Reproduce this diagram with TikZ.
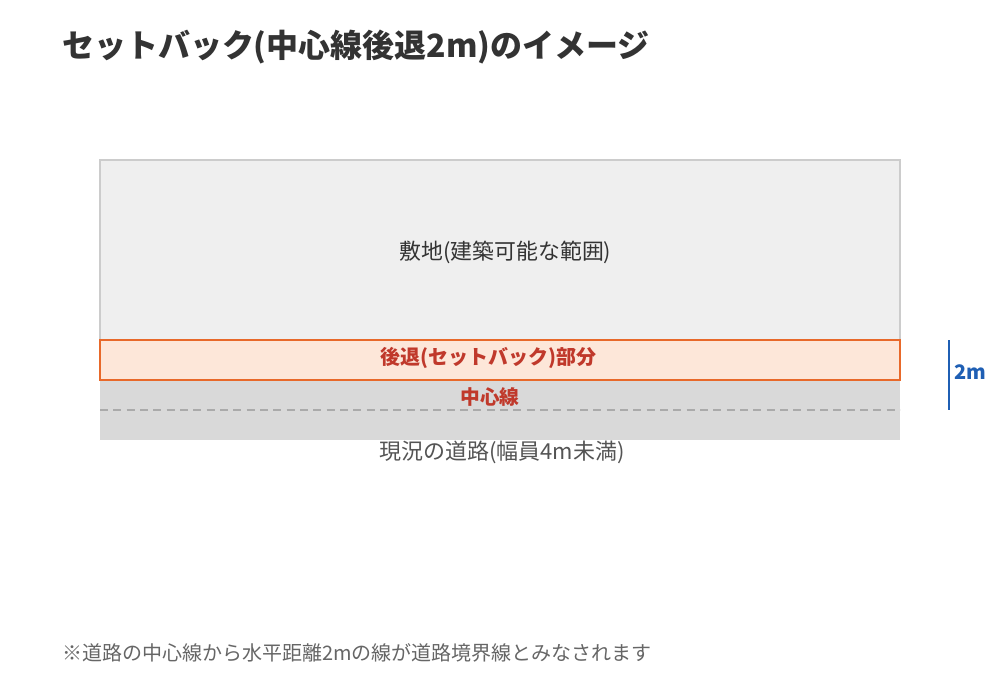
\documentclass[tikz,border=0pt]{standalone}
\usepackage{fontspec}
\setmainfont{Noto Sans CJK JP}
\usetikzlibrary{calc}
\definecolor{titlec}{HTML}{333333}
\definecolor{landfill}{HTML}{EFEFEF}
\definecolor{landdraw}{HTML}{CCCCCC}
\definecolor{setfill}{HTML}{FDE7D9}
\definecolor{setdraw}{HTML}{E8692A}
\definecolor{roadfill}{HTML}{D9D9D9}
\definecolor{redtext}{HTML}{C0392B}
\definecolor{bluec}{HTML}{1F5FB4}
\definecolor{dashc}{HTML}{AAAAAA}
\begin{document}
\begin{tikzpicture}[x=0.75pt,y=-0.75pt,
  lbl/.style={inner sep=0pt, outer sep=0pt},
  ]
\useasboundingbox[fill=white] (0,0) rectangle (1000,700);
% title
\node[lbl, anchor=west, text=titlec, font={\fontsize{24pt}{28pt}\bfseries}] (title) at (62,47) {セットバック(中心線後退2m)のイメージ};
% land
\draw[draw=landdraw, fill=landfill, line width=1.5pt] (100,159.5) rectangle (900,340);
\coordinate (landc) at (505.5,252);
\node[lbl, text=titlec, font={\fontsize{16.4pt}{20pt}\selectfont}] (land) at (landc) {敷地(建築可能な範囲)};
% road
\fill[roadfill] (100,380) rectangle (900,440);
% setback
\draw[draw=setdraw, fill=setfill, line width=1.5pt] (100,340) rectangle (900,380);
\node[lbl, text=redtext, font={\fontsize{15pt}{18pt}\bfseries}] (setb) at (488,358) {後退(セットバック)部分};
% center line
\coordinate (cl1) at (100,410);
\coordinate (cl2) at (900,410);
\draw[dashc, line width=1.1pt, dash pattern=on 6pt off 4pt] (cl1) -- (cl2);
\node[lbl, text=redtext, font={\fontsize{14.8pt}{18pt}\bfseries}] (clabel) at (490,397) {中心線};
\node[lbl, text=black!67, font={\fontsize{16.5pt}{20pt}\selectfont}] (road) at (502,452) {現況の道路(幅員4m未満)};
% 2m dimension
\coordinate (d1) at (949,340);
\coordinate (d2) at (949,410);
\draw[bluec, line width=1.6pt] (d1) -- (d2);
\node[lbl, anchor=west, text=bluec, font={\fontsize{15pt}{18pt}\bfseries}] (dim) at (954,372) {2m};
% footnote
\node[lbl, anchor=west, text=black!60, font={\fontsize{15pt}{18pt}\selectfont}] (note) at (62,653) {※道路の中心線から水平距離2mの線が道路境界線とみなされます};
\end{tikzpicture}
\end{document}
